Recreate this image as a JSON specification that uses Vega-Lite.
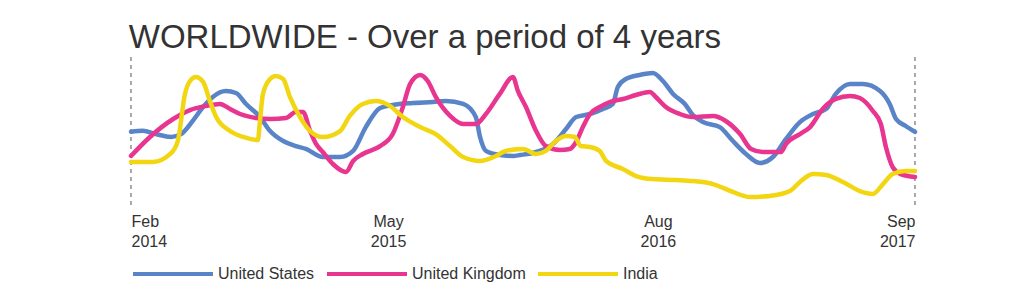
{
  "$schema": "https://vega.github.io/schema/vega-lite/v6.json",
  "width": 784,
  "height": 152,
  "padding": {"left": 128, "top": 21, "right": 0, "bottom": 0},
  "background": "white",
  "title": {
    "text": "WORLDWIDE - Over a period of 4 years",
    "anchor": "start",
    "font": "Liberation Sans",
    "fontSize": 33,
    "fontWeight": "normal",
    "color": "#333333",
    "offset": 2
  },
  "config": {"view": {"stroke": null}},
  "datasets": {
    "trends": [
      {"series": "United States", "t": 0, "v": 50.8},
      {"series": "United States", "t": 2.8, "v": 51.5},
      {"series": "United States", "t": 5.9, "v": 49.3},
      {"series": "United States", "t": 9.5, "v": 47.4},
      {"series": "United States", "t": 11.9, "v": 49.3},
      {"series": "United States", "t": 14.7, "v": 58.1},
      {"series": "United States", "t": 17.1, "v": 67.1},
      {"series": "United States", "t": 19.4, "v": 73.7},
      {"series": "United States", "t": 22.5, "v": 77.6},
      {"series": "United States", "t": 24.9, "v": 76.3},
      {"series": "United States", "t": 27.3, "v": 69.1},
      {"series": "United States", "t": 30.6, "v": 60.5},
      {"series": "United States", "t": 33.0, "v": 51.3},
      {"series": "United States", "t": 36.1, "v": 44.7},
      {"series": "United States", "t": 39.1, "v": 41.4},
      {"series": "United States", "t": 41.5, "v": 39.5},
      {"series": "United States", "t": 45.5, "v": 34.2},
      {"series": "United States", "t": 49.6, "v": 34.2},
      {"series": "United States", "t": 52.7, "v": 38.2},
      {"series": "United States", "t": 55.7, "v": 53.9},
      {"series": "United States", "t": 59.1, "v": 66.4},
      {"series": "United States", "t": 62.1, "v": 68.4},
      {"series": "United States", "t": 66.9, "v": 69.7},
      {"series": "United States", "t": 71.6, "v": 70.4},
      {"series": "United States", "t": 74.7, "v": 71.0},
      {"series": "United States", "t": 78.8, "v": 69.1},
      {"series": "United States", "t": 81.8, "v": 60.5},
      {"series": "United States", "t": 82.8, "v": 47.4},
      {"series": "United States", "t": 84.2, "v": 38.2},
      {"series": "United States", "t": 87.5, "v": 35.5},
      {"series": "United States", "t": 90.6, "v": 34.9},
      {"series": "United States", "t": 92.3, "v": 35.5},
      {"series": "United States", "t": 96.1, "v": 37.5},
      {"series": "United States", "t": 100.1, "v": 42.8},
      {"series": "United States", "t": 103.2, "v": 52.6},
      {"series": "United States", "t": 105.6, "v": 60.5},
      {"series": "United States", "t": 108.9, "v": 62.5},
      {"series": "United States", "t": 112.0, "v": 65.8},
      {"series": "United States", "t": 114.3, "v": 69.1},
      {"series": "United States", "t": 115.5, "v": 80.3},
      {"series": "United States", "t": 117.4, "v": 85.5},
      {"series": "United States", "t": 120.7, "v": 88.2},
      {"series": "United States", "t": 123.8, "v": 89.5},
      {"series": "United States", "t": 126.2, "v": 84.2},
      {"series": "United States", "t": 128.6, "v": 75.7},
      {"series": "United States", "t": 131.4, "v": 69.1},
      {"series": "United States", "t": 133.3, "v": 61.8},
      {"series": "United States", "t": 135.7, "v": 57.2},
      {"series": "United States", "t": 139.7, "v": 53.9},
      {"series": "United States", "t": 142.8, "v": 44.7},
      {"series": "United States", "t": 145.9, "v": 36.2},
      {"series": "United States", "t": 149.2, "v": 30.3},
      {"series": "United States", "t": 152.3, "v": 34.2},
      {"series": "United States", "t": 155.4, "v": 46.1},
      {"series": "United States", "t": 158.7, "v": 57.2},
      {"series": "United States", "t": 161.8, "v": 62.5},
      {"series": "United States", "t": 164.9, "v": 65.8},
      {"series": "United States", "t": 167.2, "v": 75.7},
      {"series": "United States", "t": 170.6, "v": 82.2},
      {"series": "United States", "t": 173.6, "v": 82.2},
      {"series": "United States", "t": 177.7, "v": 77.6},
      {"series": "United States", "t": 180.0, "v": 69.1},
      {"series": "United States", "t": 181.5, "v": 59.2},
      {"series": "United States", "t": 183.8, "v": 54.6},
      {"series": "United States", "t": 186, "v": 50.7},

      {"series": "United Kingdom", "t": 0, "v": 34.9},
      {"series": "United Kingdom", "t": 4.5, "v": 47.4},
      {"series": "United Kingdom", "t": 10.0, "v": 59.2},
      {"series": "United Kingdom", "t": 14.0, "v": 65.1},
      {"series": "United Kingdom", "t": 17.8, "v": 67.8},
      {"series": "United Kingdom", "t": 21.1, "v": 69.1},
      {"series": "United Kingdom", "t": 23.5, "v": 65.8},
      {"series": "United Kingdom", "t": 25.9, "v": 62.5},
      {"series": "United Kingdom", "t": 29.7, "v": 59.9},
      {"series": "United Kingdom", "t": 33.0, "v": 59.2},
      {"series": "United Kingdom", "t": 36.8, "v": 59.9},
      {"series": "United Kingdom", "t": 39.1, "v": 63.8},
      {"series": "United Kingdom", "t": 40.8, "v": 63.8},
      {"series": "United Kingdom", "t": 42.5, "v": 51.3},
      {"series": "United Kingdom", "t": 43.9, "v": 42.8},
      {"series": "United Kingdom", "t": 45.5, "v": 37.5},
      {"series": "United Kingdom", "t": 47.9, "v": 29.6},
      {"series": "United Kingdom", "t": 51.0, "v": 24.3},
      {"series": "United Kingdom", "t": 52.7, "v": 31.6},
      {"series": "United Kingdom", "t": 55.0, "v": 36.2},
      {"series": "United Kingdom", "t": 59.1, "v": 41.4},
      {"series": "United Kingdom", "t": 62.1, "v": 49.3},
      {"series": "United Kingdom", "t": 64.5, "v": 67.1},
      {"series": "United Kingdom", "t": 66.2, "v": 82.2},
      {"series": "United Kingdom", "t": 68.6, "v": 88.2},
      {"series": "United Kingdom", "t": 70.4, "v": 84.2},
      {"series": "United Kingdom", "t": 72.3, "v": 73.7},
      {"series": "United Kingdom", "t": 75.7, "v": 61.2},
      {"series": "United Kingdom", "t": 78.8, "v": 55.9},
      {"series": "United Kingdom", "t": 81.8, "v": 55.9},
      {"series": "United Kingdom", "t": 84.2, "v": 62.5},
      {"series": "United Kingdom", "t": 87.5, "v": 75.7},
      {"series": "United Kingdom", "t": 90.6, "v": 86.8},
      {"series": "United Kingdom", "t": 91.8, "v": 77.6},
      {"series": "United Kingdom", "t": 93.7, "v": 67.1},
      {"series": "United Kingdom", "t": 96.1, "v": 51.3},
      {"series": "United Kingdom", "t": 98.4, "v": 41.4},
      {"series": "United Kingdom", "t": 101.8, "v": 38.8},
      {"series": "United Kingdom", "t": 104.1, "v": 39.5},
      {"series": "United Kingdom", "t": 105.6, "v": 44.1},
      {"series": "United Kingdom", "t": 107.2, "v": 53.9},
      {"series": "United Kingdom", "t": 108.9, "v": 62.5},
      {"series": "United Kingdom", "t": 111.2, "v": 67.1},
      {"series": "United Kingdom", "t": 113.6, "v": 70.4},
      {"series": "United Kingdom", "t": 116.7, "v": 72.4},
      {"series": "United Kingdom", "t": 119.8, "v": 75.0},
      {"series": "United Kingdom", "t": 123.1, "v": 77.0},
      {"series": "United Kingdom", "t": 124.5, "v": 73.7},
      {"series": "United Kingdom", "t": 126.9, "v": 67.1},
      {"series": "United Kingdom", "t": 130.2, "v": 62.5},
      {"series": "United Kingdom", "t": 133.3, "v": 60.5},
      {"series": "United Kingdom", "t": 138.1, "v": 61.2},
      {"series": "United Kingdom", "t": 141.1, "v": 57.9},
      {"series": "United Kingdom", "t": 144.5, "v": 49.3},
      {"series": "United Kingdom", "t": 147.1, "v": 39.5},
      {"series": "United Kingdom", "t": 149.9, "v": 37.5},
      {"series": "United Kingdom", "t": 154.2, "v": 37.5},
      {"series": "United Kingdom", "t": 155.4, "v": 42.8},
      {"series": "United Kingdom", "t": 158.7, "v": 49.3},
      {"series": "United Kingdom", "t": 161.1, "v": 53.9},
      {"series": "United Kingdom", "t": 164.1, "v": 65.8},
      {"series": "United Kingdom", "t": 167.2, "v": 72.4},
      {"series": "United Kingdom", "t": 170.6, "v": 74.3},
      {"series": "United Kingdom", "t": 172.9, "v": 73.0},
      {"series": "United Kingdom", "t": 176.0, "v": 64.5},
      {"series": "United Kingdom", "t": 177.9, "v": 55.9},
      {"series": "United Kingdom", "t": 179.1, "v": 40.8},
      {"series": "United Kingdom", "t": 180.7, "v": 27.6},
      {"series": "United Kingdom", "t": 182.6, "v": 23.0},
      {"series": "United Kingdom", "t": 186, "v": 21.1},

      {"series": "India", "t": 0, "v": 30.9},
      {"series": "India", "t": 5.2, "v": 30.9},
      {"series": "India", "t": 9.3, "v": 36.2},
      {"series": "India", "t": 11.1, "v": 44.7},
      {"series": "India", "t": 12.8, "v": 75.7},
      {"series": "India", "t": 14.0, "v": 84.2},
      {"series": "India", "t": 15.4, "v": 86.8},
      {"series": "India", "t": 17.1, "v": 83.6},
      {"series": "India", "t": 18.7, "v": 71.1},
      {"series": "India", "t": 20.2, "v": 60.5},
      {"series": "India", "t": 23.5, "v": 51.3},
      {"series": "India", "t": 26.6, "v": 47.4},
      {"series": "India", "t": 30.1, "v": 45.4},
      {"series": "India", "t": 30.6, "v": 57.9},
      {"series": "India", "t": 31.3, "v": 75.7},
      {"series": "India", "t": 33.0, "v": 85.5},
      {"series": "India", "t": 34.4, "v": 87.5},
      {"series": "India", "t": 36.1, "v": 85.5},
      {"series": "India", "t": 37.7, "v": 73.7},
      {"series": "India", "t": 40.1, "v": 60.5},
      {"series": "India", "t": 42.5, "v": 51.3},
      {"series": "India", "t": 45.5, "v": 47.4},
      {"series": "India", "t": 49.6, "v": 51.3},
      {"series": "India", "t": 51.9, "v": 61.2},
      {"series": "India", "t": 55.0, "v": 69.1},
      {"series": "India", "t": 58.1, "v": 71.0},
      {"series": "India", "t": 61.4, "v": 67.8},
      {"series": "India", "t": 64.5, "v": 60.5},
      {"series": "India", "t": 68.6, "v": 53.9},
      {"series": "India", "t": 72.3, "v": 49.3},
      {"series": "India", "t": 75.7, "v": 41.4},
      {"series": "India", "t": 78.8, "v": 34.2},
      {"series": "India", "t": 82.8, "v": 31.6},
      {"series": "India", "t": 86.6, "v": 34.9},
      {"series": "India", "t": 88.9, "v": 38.2},
      {"series": "India", "t": 93.0, "v": 39.5},
      {"series": "India", "t": 96.1, "v": 36.2},
      {"series": "India", "t": 98.4, "v": 38.2},
      {"series": "India", "t": 100.8, "v": 44.7},
      {"series": "India", "t": 103.2, "v": 48.0},
      {"series": "India", "t": 105.3, "v": 47.4},
      {"series": "India", "t": 106.7, "v": 41.4},
      {"series": "India", "t": 108.9, "v": 40.8},
      {"series": "India", "t": 111.2, "v": 38.2},
      {"series": "India", "t": 112.7, "v": 31.6},
      {"series": "India", "t": 116.7, "v": 26.3},
      {"series": "India", "t": 119.8, "v": 21.7},
      {"series": "India", "t": 123.8, "v": 19.7},
      {"series": "India", "t": 129.3, "v": 19.1},
      {"series": "India", "t": 133.3, "v": 18.4},
      {"series": "India", "t": 138.1, "v": 16.4},
      {"series": "India", "t": 142.8, "v": 11.2},
      {"series": "India", "t": 146.8, "v": 7.9},
      {"series": "India", "t": 151.6, "v": 8.6},
      {"series": "India", "t": 156.3, "v": 11.8},
      {"series": "India", "t": 158.7, "v": 17.8},
      {"series": "India", "t": 161.8, "v": 23.0},
      {"series": "India", "t": 164.9, "v": 22.4},
      {"series": "India", "t": 168.9, "v": 17.8},
      {"series": "India", "t": 172.9, "v": 11.8},
      {"series": "India", "t": 176.0, "v": 9.9},
      {"series": "India", "t": 178.4, "v": 16.4},
      {"series": "India", "t": 180.7, "v": 23.0},
      {"series": "India", "t": 183.8, "v": 25.0},
      {"series": "India", "t": 186, "v": 25.0}
    ],
    "edges": [{"t": 0}, {"t": 186}]
  },
  "layer": [
    {
      "data": {"name": "edges"},
      "mark": {"type": "rule", "color": "#555555", "strokeDash": [4, 4], "strokeWidth": 1},
      "encoding": {
        "x": {"field": "t", "type": "quantitative", "scale": {"domain": [0, 186], "nice": false, "zero": false}}
      }
    },
    {
      "data": {"name": "trends"},
      "mark": {"type": "line", "interpolate": "monotone", "strokeWidth": 4.5, "strokeCap": "round", "strokeJoin": "round"},
      "encoding": {
        "x": {
          "field": "t",
          "type": "quantitative",
          "scale": {"domain": [0, 186], "nice": false, "zero": false},
          "axis": {
            "title": null,
            "values": [0, 61, 125, 186],
            "labelExpr": "datum.value == 0 ? ['Feb', '2014'] : datum.value == 61 ? ['May', '2015'] : datum.value == 125 ? ['Aug', '2016'] : ['Sep', '2017']",
            "labelFlush": true,
            "labelFont": "Liberation Sans",
            "labelFontSize": 16,
            "labelColor": "#333333",
            "labelLineHeight": 20,
            "labelPadding": 4,
            "domain": false,
            "ticks": false,
            "grid": false
          }
        },
        "y": {"field": "v", "type": "quantitative", "scale": {"domain": [0, 100], "nice": false}, "axis": null},
        "color": {
          "field": "series",
          "type": "nominal",
          "scale": {"domain": ["United States", "United Kingdom", "India"], "range": ["#5a84c8", "#e8358f", "#f2d611"]},
          "legend": {
            "title": null,
            "orient": "bottom",
            "direction": "horizontal",
            "symbolType": "stroke",
            "symbolSize": 6400,
            "symbolStrokeWidth": 4,
            "labelFont": "Liberation Sans",
            "labelFontSize": 16,
            "labelColor": "#333333",
            "labelOffset": 3,
            "columnPadding": 4,
            "padding": 0,
            "offset": -17
          }
        }
      }
    }
  ]
}
